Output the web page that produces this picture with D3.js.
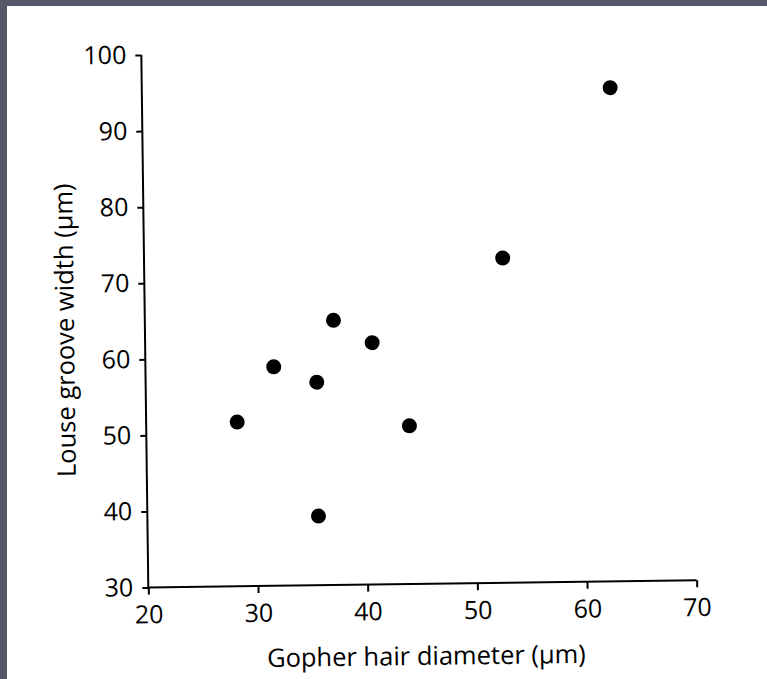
<!DOCTYPE html>
<html>
<head>
<meta charset="utf-8">
<script src="https://cdn.jsdelivr.net/npm/d3@7"></script>
<style>
  html, body { margin: 0; padding: 0; background: #56586a; }
  #chart { position: absolute; left: 7px; top: 6px; width: 760px; height: 673px; background: #fff; }
  svg { display: block; }
  .axis text { font-family: "Open Sans", sans-serif; font-size: 25px; fill: #000; }
  .axis path, .axis line { stroke: #000; stroke-width: 2; }
  .title { font-family: "Open Sans", sans-serif; font-size: 25.5px; fill: #000; }
</style>
</head>
<body>
<div id="chart"></div>
<script>
// gopher hair diameter (um) vs louse groove width (um)
let hairDiameter = [62.7, 52.7, 37.2, 40.7, 31.7, 35.6, 28.3, 44.0, 35.6];
let grooveWidth  = [94.9, 72.7, 64.8, 61.8, 58.8, 56.7, 51.6, 50.8, 39.1];
let xTicks = [20, 30, 40, 50, 60, 70];
let yTicks = [30, 40, 50, 60, 70, 80, 90, 100];

let width = 760, height = 673;
// the page was scanned a little crooked, so the whole plot is turned slightly
let origin = [141.3, 581.5], tilt = -0.75;
let plotW = 548.4, plotH = 532.5;

let svg = d3.select('#chart').append('svg')
  .attr('width', width)
  .attr('height', height);

let g = svg.append('g')
  .attr('transform', 'translate(' + origin[0] + ',' + origin[1] + ') rotate(' + tilt + ')');

let x = d3.scaleLinear().domain([20, 70]).range([0, plotW]);
let y = d3.scaleLinear().domain([30, 100]).range([0, -plotH]);

let xAxis = d3.axisBottom(x)
  .tickValues(xTicks)
  .tickSize(7)
  .tickPadding(11);

let yAxis = d3.axisLeft(y)
  .tickValues(yTicks)
  .tickSize(6)
  .tickPadding(9);

g.append('g').attr('class', 'axis x').call(xAxis);
g.append('g').attr('class', 'axis y').call(yAxis);

// ticks and labels sit outside, domain ends have no outer caps beyond the ticks
g.selectAll('.axis .domain').attr('d', null);
g.select('.axis.x').append('line').attr('x1', 0).attr('x2', plotW).attr('y1', 0).attr('y2', 0);
g.select('.axis.y').append('line').attr('x1', 0).attr('x2', 0).attr('y1', 0).attr('y2', -plotH);

g.append('g').attr('class', 'points')
  .selectAll('circle')
  .data(hairDiameter.map((d, i) => ({x: d, y: grooveWidth[i]})))
  .enter()
  .append('circle')
  .attr('cx', d => x(d.x))
  .attr('cy', d => y(d.y))
  .attr('r', 7.5)
  .style('fill', '#000');

g.append('text')
  .attr('class', 'title')
  .attr('x', plotW / 2 + 3)
  .attr('y', 81)
  .attr('text-anchor', 'middle')
  .text('Gopher hair diameter (\u03bcm)');

g.append('text')
  .attr('class', 'title')
  .attr('transform', 'translate(-71,' + (-plotH / 2 + 8) + ') rotate(-90)')
  .attr('text-anchor', 'middle')
  .text('Louse groove width (\u03bcm)');
</script>
</body>
</html>
